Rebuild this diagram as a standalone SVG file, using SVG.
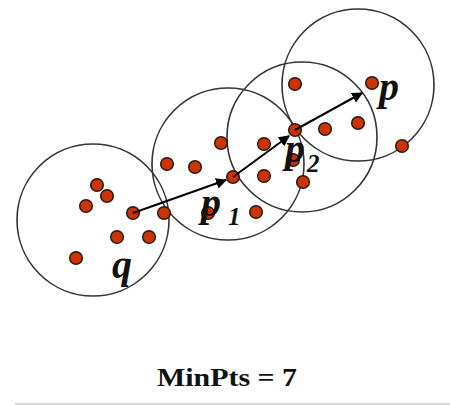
<svg xmlns="http://www.w3.org/2000/svg" width="450" height="405" viewBox="0 0 450 405">
<style>
.c{fill:none;stroke:#333;stroke-width:1.6}
.d{fill:#cc3300;stroke:#2a1a10;stroke-width:1.5}
.a{stroke:#000;stroke-width:2;fill:none}
.l{font-family:"Liberation Serif",serif;font-weight:bold;font-style:italic;fill:#111}
.t{font-family:"Liberation Serif",serif;font-weight:bold;fill:#111}
</style>
<defs>
<marker id="ah" viewBox="0 0 10 10" refX="9" refY="5" markerWidth="5.5" markerHeight="5.5" orient="auto">
<path d="M0,0 L10,5 L0,10 Z" fill="#000"/>
</marker>
</defs>
<rect width="450" height="405" fill="#fff"/>
<g id="circles">
<circle id="circle-q" class="c" cx="93" cy="220" r="76"/>
<circle id="circle-p1" class="c" cx="228" cy="164" r="76"/>
<circle id="circle-p2" class="c" cx="302" cy="137" r="75"/>
<circle id="circle-p" class="c" cx="358" cy="85" r="76"/>
</g>
<g id="points">
<circle class="d" cx="97" cy="185" r="6.3"/>
<circle class="d" cx="107" cy="196" r="6.3"/>
<circle class="d" cx="86" cy="206" r="6.3"/>
<circle class="d" cx="133" cy="213" r="6.3"/>
<circle class="d" cx="164" cy="213" r="6.3"/>
<circle class="d" cx="117" cy="237" r="6.3"/>
<circle class="d" cx="149" cy="237" r="6.3"/>
<circle class="d" cx="76" cy="258" r="6.3"/>
<circle class="d" cx="167" cy="164" r="6.3"/>
<circle class="d" cx="195" cy="167" r="6.3"/>
<circle class="d" cx="221" cy="143" r="6.3"/>
<circle class="d" cx="264" cy="144" r="6.3"/>
<circle class="d" cx="233" cy="177" r="6.3"/>
<circle class="d" cx="264" cy="176" r="6.3"/>
<circle class="d" cx="208" cy="213" r="6.3"/>
<circle class="d" cx="256" cy="212" r="6.3"/>
<circle class="d" cx="303" cy="182" r="6.3"/>
<circle class="d" cx="293" cy="160" r="6.3"/>
<circle class="d" cx="295" cy="130" r="6.3"/>
<circle class="d" cx="325" cy="129" r="6.3"/>
<circle class="d" cx="358" cy="123" r="6.3"/>
<circle class="d" cx="295" cy="84" r="6.3"/>
<circle class="d" cx="372" cy="83" r="6.3"/>
<circle class="d" cx="402" cy="146" r="6.3"/>
</g>
<g id="connectors">
<line class="a" x1="133" y1="213" x2="226" y2="180" marker-end="url(#ah)"/>
<line class="a" x1="233" y1="177" x2="289" y2="136" marker-end="url(#ah)"/>
<line class="a" x1="295" y1="130" x2="362" y2="93" marker-end="url(#ah)"/>
</g>
<g id="labels">
<text class="l" x="112" y="278" font-size="40">q</text>
<text class="l" x="201" y="216" font-size="40">p</text>
<text class="l" x="228" y="225" font-size="25">1</text>
<text class="l" x="285" y="162" font-size="40">p</text>
<text class="l" x="307" y="172" font-size="25">2</text>
<text class="l" x="379" y="100" font-size="40">p</text>
</g>
<text class="t" x="157" y="386" font-size="25" textLength="140" lengthAdjust="spacingAndGlyphs">MinPts = 7</text>
<line x1="15" y1="404" x2="450" y2="404" stroke="#ccc" stroke-width="1.5"/>
</svg>
